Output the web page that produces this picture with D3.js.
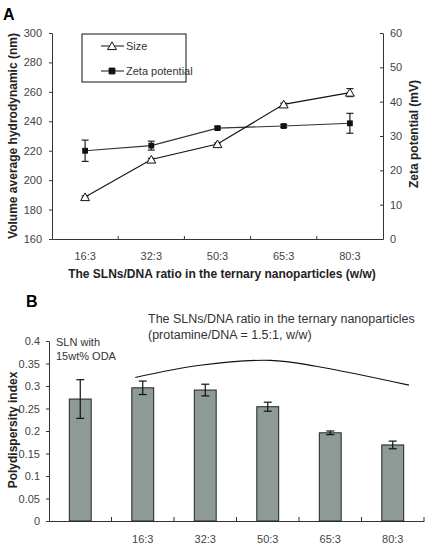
<!DOCTYPE html>
<html>
<head>
<meta charset="utf-8">
<script src="https://cdnjs.cloudflare.com/ajax/libs/d3/7.8.5/d3.min.js"></script>
<style>
  body { margin: 0; background: #fff; }
  svg { display: block; font-family: "Liberation Sans", Arial, sans-serif; }
  .tick text { fill: #444; font-size: 11px; }
  .axis path, .axis line { stroke: #333; }
  .title { font-weight: bold; font-size: 12px; fill: #222; }
</style>
</head>
<body>
<div id="chart"></div>
<script>
/*global d3*/

// Panel A
var ratios = ["16:3", "32:3", "50:3", "65:3", "80:3"];
var sizeNm = [188.5, 214, 224.5, 251.5, 259.5];
var sizeErr = [0.8, 0.8, 0.8, 0.8, 2.7];
var zetaMv = [25.7, 27.2, 32.3, 32.9, 33.7];
var zetaErr = [3.1, 1.3, 0.4, 0.4, 2.9];
var sizeTicks = [160, 180, 200, 220, 240, 260, 280, 300];
var zetaTicks = [0, 10, 20, 30, 40, 50, 60];

// Panel B
var groups = ["SLN", "16:3", "32:3", "50:3", "65:3", "80:3"];
var groupLabels = ["", "16:3", "32:3", "50:3", "65:3", "80:3"];
var pdi = [0.271, 0.296, 0.291, 0.254, 0.196, 0.169];
var pdiErr = [0.043, 0.015, 0.013, 0.01, 0.004, 0.0085];
var pdiTicks = [0, 0.05, 0.1, 0.15, 0.2, 0.25, 0.3, 0.35, 0.4];
// bracket curve over the ternary groups (band position, pdi value)
var bracket = [[1.38, 0.319], [2.42, 0.346], [3.54, 0.357], [4.27, 0.344], [5.76, 0.302]];

(function () {
    "use strict";

    var svg = d3.select("#chart").append("svg")
        .attr("width", 432)
        .attr("height", 554);

    // ---------- A ----------
    var xA = d3.scaleBand().domain(ratios).range([52, 383]),
        yL = d3.scaleLinear().domain([160, 300]).range([239, 33]),
        yR = d3.scaleLinear().domain([0, 60]).range([239, 33]);

    svg.append("text").attr("x", 3).attr("y", 20)
        .style("font-weight", "bold").style("font-size", "16px").text("A");

    svg.append("g").attr("class", "axis")
        .attr("transform", "translate(52,0)")
        .call(d3.axisLeft(yL).tickValues(sizeTicks).tickSize(3).tickSizeOuter(0).tickPadding(7));
    svg.append("g").attr("class", "axis")
        .attr("transform", "translate(383,0)")
        .call(d3.axisRight(yR).tickValues(zetaTicks).tickSize(-3).tickSizeOuter(0).tickPadding(7));

    var bottomA = svg.append("g").attr("class", "axis")
        .attr("transform", "translate(0,239)")
        .call(d3.axisBottom(xA).tickSize(0).tickSizeOuter(0).tickPadding(13));
    bottomA.selectAll(".sep")
        .data(ratios.slice(1))
        .enter().append("line")
        .attr("class", "sep")
        .attr("x1", function (d) { return xA(d); })
        .attr("x2", function (d) { return xA(d); })
        .attr("y1", 0).attr("y2", -3);

    svg.append("text").attr("class", "title")
        .attr("text-anchor", "middle")
        .attr("transform", "translate(17,136) rotate(-90)")
        .text("Volume average hydrodynamic (nm)");
    svg.append("text").attr("class", "title")
        .attr("text-anchor", "middle")
        .attr("transform", "translate(418,134) rotate(-90)")
        .text("Zeta potential (mV)");
    svg.append("text").attr("class", "title")
        .attr("text-anchor", "middle")
        .attr("x", 222).attr("y", 278)
        .text("The SLNs/DNA ratio in the ternary nanoparticles (w/w)");

    var cx = function (d, i) { return xA(ratios[i]) + xA.bandwidth() / 2; };

    function errBars(vals, errs, y, color) {
        var g = svg.append("g").attr("stroke", color).attr("stroke-width", 1.2);
        vals.forEach(function (v, i) {
            var x = cx(v, i);
            g.append("line").attr("x1", x).attr("x2", x)
                .attr("y1", y(v - errs[i])).attr("y2", y(v + errs[i]));
            [v - errs[i], v + errs[i]].forEach(function (e) {
                g.append("line").attr("x1", x - 3.5).attr("x2", x + 3.5)
                    .attr("y1", y(e)).attr("y2", y(e));
            });
        });
    }

    errBars(zetaMv, zetaErr, yR, "#222");
    errBars(sizeNm, sizeErr, yL, "#222");

    svg.append("path").datum(zetaMv)
        .attr("fill", "none").attr("stroke", "#333").attr("stroke-width", 1.1)
        .attr("d", d3.line().x(cx).y(function (d) { return yR(d); }));
    svg.append("path").datum(sizeNm)
        .attr("fill", "none").attr("stroke", "#111").attr("stroke-width", 1.1)
        .attr("d", d3.line().x(cx).y(function (d) { return yL(d); }));

    var square = d3.symbol().type(d3.symbolSquare).size(34),
        triangle = d3.symbol().type(d3.symbolTriangle).size(34);

    svg.append("g").selectAll("path")
        .data(zetaMv).enter().append("path")
        .attr("d", square)
        .attr("fill", "#111")
        .attr("transform", function (d, i) { return "translate(" + cx(d, i) + "," + yR(d) + ")"; });
    svg.append("g").selectAll("path")
        .data(sizeNm).enter().append("path")
        .attr("d", triangle)
        .attr("fill", "#fff").attr("stroke", "#111")
        .attr("transform", function (d, i) { return "translate(" + cx(d, i) + "," + (yL(d) + 1) + ")"; });

    // legend
    var leg = svg.append("g");
    leg.append("rect").attr("x", 82).attr("y", 34).attr("width", 104).attr("height", 48)
        .attr("fill", "#fff").attr("stroke", "#111");
    [["Size", triangle, "#fff", 46], ["Zeta potential", square, "#111", 71]].forEach(function (it) {
        leg.append("line").attr("x1", 101).attr("x2", 124).attr("y1", it[3]).attr("y2", it[3])
            .attr("stroke", "#111");
        leg.append("path").attr("d", it[1]).attr("fill", it[2]).attr("stroke", "#111")
            .attr("transform", "translate(112," + (it[3] + (it[0] === "Size" ? 1 : 0)) + ")");
        leg.append("text").attr("x", 126).attr("y", it[3] + 4)
            .style("font-size", "11px").attr("fill", "#333").text(it[0]);
    });

    // ---------- B ----------
    var xB = d3.scaleBand().domain(groups).range([49, 424]),
        yB = d3.scaleLinear().domain([0, 0.4]).range([521, 341]),
        uB = d3.scaleLinear().domain([0, groups.length]).range([49, 424]);

    svg.append("text").attr("x", 26).attr("y", 307)
        .style("font-weight", "bold").style("font-size", "16px").text("B");

    svg.append("g").attr("class", "axis")
        .attr("transform", "translate(49,0)")
        .call(d3.axisLeft(yB).tickValues(pdiTicks).tickSize(3).tickSizeOuter(0).tickPadding(6)
            .tickFormat(function (d) { return String(+d.toFixed(2)); }));

    var bottomB = svg.append("g").attr("class", "axis")
        .attr("transform", "translate(0,521)")
        .call(d3.axisBottom(xB).tickSize(0).tickSizeOuter(0).tickPadding(14)
            .tickFormat(function (d, i) { return groupLabels[i]; }));
    bottomB.selectAll(".sep")
        .data(groups.slice(1).concat(["end"]))
        .enter().append("line")
        .attr("class", "sep")
        .attr("x1", function (d) { return d === "end" ? 424 : xB(d); })
        .attr("x2", function (d) { return d === "end" ? 424 : xB(d); })
        .attr("y1", 0).attr("y2", -4);

    var bw = xB.bandwidth() * 0.35;
    svg.append("g").selectAll("rect")
        .data(pdi).enter().append("rect")
        .attr("x", function (d, i) { return xB(groups[i]) + xB.bandwidth() / 2 - bw / 2; })
        .attr("y", function (d) { return yB(d); })
        .attr("width", bw)
        .attr("height", function (d) { return yB(0) - yB(d); })
        .attr("fill", "#8d9a95").attr("stroke", "#222").attr("stroke-width", 1);

    var eg = svg.append("g").attr("stroke", "#111").attr("stroke-width", 1.2);
    pdi.forEach(function (v, i) {
        var x = xB(groups[i]) + xB.bandwidth() / 2;
        eg.append("line").attr("x1", x).attr("x2", x)
            .attr("y1", yB(v - pdiErr[i])).attr("y2", yB(v + pdiErr[i]));
        [v - pdiErr[i], v + pdiErr[i]].forEach(function (e) {
            eg.append("line").attr("x1", x - 4).attr("x2", x + 4)
                .attr("y1", yB(e)).attr("y2", yB(e));
        });
    });

    svg.append("path").datum(bracket)
        .attr("fill", "none").attr("stroke", "#111").attr("stroke-width", 1.1)
        .attr("d", d3.line().curve(d3.curveCatmullRom)
            .x(function (d) { return uB(d[0]); })
            .y(function (d) { return yB(d[1]); }));

    svg.append("text").attr("class", "title")
        .attr("text-anchor", "middle")
        .attr("transform", "translate(17,430) rotate(-90)")
        .text("Polydispersity index");

    var note = svg.append("text").style("font-size", "11px").attr("fill", "#333");
    note.append("tspan").attr("x", 56).attr("y", 346).text("SLN with");
    note.append("tspan").attr("x", 56).attr("y", 360).text("15wt% ODA");

    var head = svg.append("text").style("font-size", "12.5px").attr("fill", "#333");
    head.append("tspan").attr("x", 148).attr("y", 323).text("The SLNs/DNA ratio in the ternary nanoparticles");
    head.append("tspan").attr("x", 148).attr("y", 339).text("(protamine/DNA = 1.5:1, w/w)");
}());
</script>
</body>
</html>
